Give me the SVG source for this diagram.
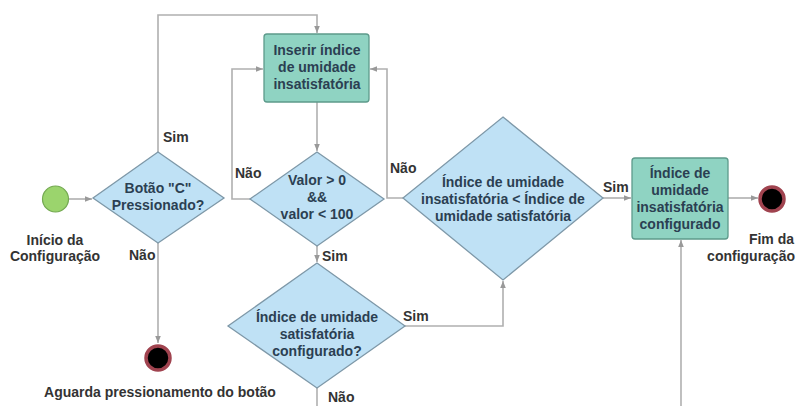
<svg xmlns="http://www.w3.org/2000/svg" width="796" height="406" viewBox="0 0 796 406">
<style>
text{font-family:"Liberation Sans",Arial,sans-serif;font-weight:bold;font-size:14px}
.n{fill:#2b3f52;text-anchor:middle}
.l{fill:#333}
.dia{fill:#bfe1f5;stroke:#7e98a8;stroke-width:1.3}
.box{fill:#8fd3c2;stroke:#5d9a8b;stroke-width:1.3}
.ln{fill:none;stroke:#b0b0b0;stroke-width:1.6}
</style>
<defs>
<marker id="ah" viewBox="0 0 10 10" refX="10" refY="5" markerWidth="7" markerHeight="7" orient="auto" markerUnits="userSpaceOnUse">
<path d="M0,1 L10,5 L0,9 Z" fill="#999"/>
</marker>
</defs>
<rect width="796" height="406" fill="#fff"/>
<g id="connectors">
<path class="ln" d="M69,199 H92" marker-end="url(#ah)"/>
<path class="ln" d="M158,152 V15 H317 V33" marker-end="url(#ah)"/>
<path class="ln" d="M158,243 V343" marker-end="url(#ah)"/>
<path class="ln" d="M317,102 V151" marker-end="url(#ah)"/>
<path class="ln" d="M250,199 H232 V69 H263" marker-end="url(#ah)"/>
<path class="ln" d="M317,246 V262" marker-end="url(#ah)"/>
<path class="ln" d="M403,198 H387 V69 H370" marker-end="url(#ah)"/>
<path class="ln" d="M405,326 H503 V281" marker-end="url(#ah)"/>
<path class="ln" d="M317,388 V406"/>
<path class="ln" d="M603,198 H631" marker-end="url(#ah)"/>
<path class="ln" d="M728,198 H758" marker-end="url(#ah)"/>
<path class="ln" d="M681,406 V240" marker-end="url(#ah)"/>
<text class="l" x="163" y="142">Sim</text>
<text class="l" x="129" y="260">Não</text>
<text class="l" x="235" y="178">Não</text>
<text class="l" x="322" y="261">Sim</text>
<text class="l" x="390" y="173">Não</text>
<text class="l" x="403" y="321">Sim</text>
<text class="l" x="603" y="192">Sim</text>
<text class="l" x="328" y="402">Não</text>
</g>
<g id="start">
<circle cx="55.5" cy="199" r="13" fill="#9bd46d" stroke="#74a952" stroke-width="1.2"/>
<text class="n" x="55" y="245" fill="#333" style="fill:#333">Início da</text>
<text class="n" x="55" y="261" style="fill:#333">Configuração</text>
</g>
<g id="botao">
<polygon class="dia" points="158,152 224,198 158,243 93,198"/>
<text class="n" x="158" y="193">Botão "C"</text>
<text class="n" x="158" y="210">Pressionado?</text>
</g>
<g id="inserir">
<rect class="box" x="264" y="34" width="105" height="68" rx="3"/>
<text class="n" x="317" y="55">Inserir índice</text>
<text class="n" x="317" y="72">de umidade</text>
<text class="n" x="317" y="89">insatisfatória</text>
</g>
<g id="valor">
<polygon class="dia" points="317,152 384,199 317,246 250,199"/>
<text class="n" x="317" y="185">Valor &gt; 0</text>
<text class="n" x="317" y="202">&amp;&amp;</text>
<text class="n" x="317" y="219">valor &lt; 100</text>
</g>
<g id="comparacao">
<polygon class="dia" points="503,117 603,198 503,280 403,198"/>
<text class="n" x="503" y="187">Índice de umidade</text>
<text class="n" x="503" y="204">insatisfatória &lt; Índice de</text>
<text class="n" x="503" y="221">umidade satisfatória</text>
</g>
<g id="satisfatoria">
<polygon class="dia" points="317,263 405,326 317,388 228,326"/>
<text class="n" x="317" y="322">Índice de umidade</text>
<text class="n" x="317" y="339">satisfatória</text>
<text class="n" x="317" y="356">configurado?</text>
</g>
<g id="configurado">
<rect class="box" x="632" y="158" width="96" height="81" rx="3"/>
<text class="n" x="680" y="178">Índice de</text>
<text class="n" x="680" y="195">umidade</text>
<text class="n" x="680" y="212">insatisfatória</text>
<text class="n" x="680" y="229">configurado</text>
</g>
<g id="fim">
<circle cx="772" cy="199" r="12" fill="#000" stroke="#a0434f" stroke-width="3.5"/>
<text class="l" x="794" y="244" text-anchor="end">Fim da</text>
<text class="l" x="795" y="261" text-anchor="end">configuração</text>
</g>
<g id="aguarda">
<circle cx="158" cy="358" r="12" fill="#000" stroke="#a0434f" stroke-width="3.5"/>
<text class="l" x="160" y="397" text-anchor="middle">Aguarda pressionamento do botão</text>
</g>
</svg>
